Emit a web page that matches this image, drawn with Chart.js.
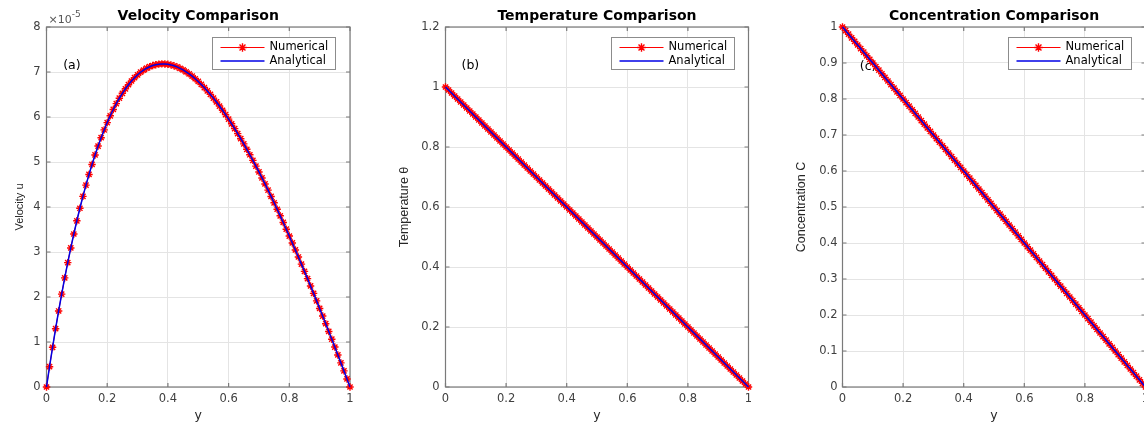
<!DOCTYPE html>
<html>
<head>
<meta charset="utf-8">
<script src="https://cdn.jsdelivr.net/npm/chart.js@4.4.1/dist/chart.umd.min.js"></script>
<style>
  html, body { margin: 0; padding: 0; background: #fff; overflow: hidden; }
  body { width: 1144px; height: 423px; position: relative; }
  canvas { position: absolute; top: 0; }
</style>
</head>
<body>
<canvas id="velChart" width="380" height="423" style="left:0px"></canvas>
<canvas id="tempChart" width="380" height="423" style="left:380px"></canvas>
<canvas id="concChart" width="400" height="423" style="left:760px"></canvas>
<script>
  // grid in y (0 -> 1, step 0.01)
  const yPos = [
    0, 0.01, 0.02, 0.03, 0.04, 0.05, 0.06, 0.07, 0.08, 0.09,
    0.1, 0.11, 0.12, 0.13, 0.14, 0.15, 0.16, 0.17, 0.18, 0.19,
    0.2, 0.21, 0.22, 0.23, 0.24, 0.25, 0.26, 0.27, 0.28, 0.29,
    0.3, 0.31, 0.32, 0.33, 0.34, 0.35, 0.36, 0.37, 0.38, 0.39,
    0.4, 0.41, 0.42, 0.43, 0.44, 0.45, 0.46, 0.47, 0.48, 0.49,
    0.5, 0.51, 0.52, 0.53, 0.54, 0.55, 0.56, 0.57, 0.58, 0.59,
    0.6, 0.61, 0.62, 0.63, 0.64, 0.65, 0.66, 0.67, 0.68, 0.69,
    0.7, 0.71, 0.72, 0.73, 0.74, 0.75, 0.76, 0.77, 0.78, 0.79,
    0.8, 0.81, 0.82, 0.83, 0.84, 0.85, 0.86, 0.87, 0.88, 0.89,
    0.9, 0.91, 0.92, 0.93, 0.94, 0.95, 0.96, 0.97, 0.98, 0.99,
    1
  ];

  // velocity u, in units of 1e-5
  const velocity = [
    0, 0.451, 0.883, 1.295, 1.689, 2.065, 2.424, 2.765, 3.090, 3.400,
    3.694, 3.972, 4.237, 4.487, 4.723, 4.946, 5.157, 5.354, 5.540, 5.713,
    5.876, 6.027, 6.167, 6.297, 6.417, 6.527, 6.627, 6.718, 6.800, 6.873,
    6.938, 6.995, 7.043, 7.084, 7.117, 7.143, 7.162, 7.174, 7.180, 7.179,
    7.171, 7.158, 7.138, 7.113, 7.082, 7.046, 7.005, 6.958, 6.907, 6.850,
    6.790, 6.724, 6.654, 6.580, 6.502, 6.420, 6.334, 6.244, 6.150, 6.053,
    5.953, 5.849, 5.742, 5.631, 5.518, 5.402, 5.283, 5.161, 5.036, 4.909,
    4.779, 4.646, 4.512, 4.374, 4.235, 4.094, 3.950, 3.804, 3.656, 3.506,
    3.355, 3.201, 3.046, 2.889, 2.730, 2.570, 2.408, 2.245, 2.080, 1.914,
    1.746, 1.577, 1.406, 1.235, 1.062, 0.888, 0.712, 0.536, 0.358, 0.179,
    0
  ];

  const temperature = [
    1, 0.99, 0.98, 0.97, 0.96, 0.95, 0.94, 0.93, 0.92, 0.91,
    0.9, 0.89, 0.88, 0.87, 0.86, 0.85, 0.84, 0.83, 0.82, 0.81,
    0.8, 0.79, 0.78, 0.77, 0.76, 0.75, 0.74, 0.73, 0.72, 0.71,
    0.7, 0.69, 0.68, 0.67, 0.66, 0.65, 0.64, 0.63, 0.62, 0.61,
    0.6, 0.59, 0.58, 0.57, 0.56, 0.55, 0.54, 0.53, 0.52, 0.51,
    0.5, 0.49, 0.48, 0.47, 0.46, 0.45, 0.44, 0.43, 0.42, 0.41,
    0.4, 0.39, 0.38, 0.37, 0.36, 0.35, 0.34, 0.33, 0.32, 0.31,
    0.3, 0.29, 0.28, 0.27, 0.26, 0.25, 0.24, 0.23, 0.22, 0.21,
    0.2, 0.19, 0.18, 0.17, 0.16, 0.15, 0.14, 0.13, 0.12, 0.11,
    0.1, 0.09, 0.08, 0.07, 0.06, 0.05, 0.04, 0.03, 0.02, 0.01,
    0
  ];

  const concentration = [
    1, 0.99, 0.98, 0.97, 0.96, 0.95, 0.94, 0.93, 0.92, 0.91,
    0.9, 0.89, 0.88, 0.87, 0.86, 0.85, 0.84, 0.83, 0.82, 0.81,
    0.8, 0.79, 0.78, 0.77, 0.76, 0.75, 0.74, 0.73, 0.72, 0.71,
    0.7, 0.69, 0.68, 0.67, 0.66, 0.65, 0.64, 0.63, 0.62, 0.61,
    0.6, 0.59, 0.58, 0.57, 0.56, 0.55, 0.54, 0.53, 0.52, 0.51,
    0.5, 0.49, 0.48, 0.47, 0.46, 0.45, 0.44, 0.43, 0.42, 0.41,
    0.4, 0.39, 0.38, 0.37, 0.36, 0.35, 0.34, 0.33, 0.32, 0.31,
    0.3, 0.29, 0.28, 0.27, 0.26, 0.25, 0.24, 0.23, 0.22, 0.21,
    0.2, 0.19, 0.18, 0.17, 0.16, 0.15, 0.14, 0.13, 0.12, 0.11,
    0.1, 0.09, 0.08, 0.07, 0.06, 0.05, 0.04, 0.03, 0.02, 0.01,
    0
  ];

  const seriesNames = ['Numerical', 'Analytical'];

  const tickFmt = v => String(+v.toFixed(2));

  // MATLAB-like box with inward ticks on all four sides
  const matlabBox = {
    id: 'matlabBox',
    beforeDatasetsDraw(chart) {
      const { ctx, chartArea: a, scales: { x, y } } = chart;
      const tl = 4;
      ctx.save();
      ctx.strokeStyle = '#7a7a7a';
      ctx.lineWidth = 1.2;
      ctx.beginPath();
      x.ticks.forEach(t => {
        const px = x.getPixelForValue(t.value);
        ctx.moveTo(px, a.top); ctx.lineTo(px, a.top + tl);
        ctx.moveTo(px, a.bottom); ctx.lineTo(px, a.bottom - tl);
      });
      y.ticks.forEach(t => {
        const py = y.getPixelForValue(t.value);
        ctx.moveTo(a.left, py); ctx.lineTo(a.left + tl, py);
        ctx.moveTo(a.right, py); ctx.lineTo(a.right - tl, py);
      });
      ctx.stroke();
      ctx.strokeRect(a.left, a.top, a.right - a.left, a.bottom - a.top);
      ctx.restore();
    }
  };

  // "(a)" style panel tag, placed in data coords, drawn under the lines
  const panelTag = {
    id: 'panelTag',
    beforeDatasetsDraw(chart, args, opts) {
      if (!opts.text) return;
      const { ctx, scales: { x, y } } = chart;
      ctx.save();
      ctx.font = '12.5px "DejaVu Sans"';
      ctx.fillStyle = '#000';
      ctx.textBaseline = 'middle';
      ctx.textAlign = 'left';
      ctx.fillText(opts.text, x.getPixelForValue(opts.x), y.getPixelForValue(opts.y));
      ctx.restore();
    }
  };

  // "x10^-5" exponent above the y axis
  const expLabel = {
    id: 'expLabel',
    afterDraw(chart, args, opts) {
      if (!opts.exp) return;
      const { ctx, chartArea: a } = chart;
      ctx.save();
      ctx.fillStyle = '#555';
      ctx.textAlign = 'left';
      ctx.textBaseline = 'alphabetic';
      ctx.font = '11px "DejaVu Sans"';
      const base = '\u00d710';
      ctx.fillText(base, a.left + 2, a.top - 4);
      const w = ctx.measureText(base).width;
      ctx.font = '9px "DejaVu Sans"';
      ctx.fillText(opts.exp, a.left + 2 + w, a.top - 10);
      ctx.restore();
    }
  };

  // boxed legend inside the top right corner of the axes
  const boxLegend = {
    id: 'boxLegend',
    afterDraw(chart) {
      const { ctx, chartArea: a } = chart;
      const w = 123, h = 32;
      const left = Math.round(a.right - 15 - w) + 0.5, top = Math.round(a.top + 10) + 0.5;
      ctx.save();
      ctx.fillStyle = '#fff';
      ctx.fillRect(left, top, w, h);
      ctx.strokeStyle = '#8c8c8c';
      ctx.lineWidth = 1;
      ctx.strokeRect(left, top, w, h);
      const items = [...chart.data.datasets].sort((p, q) => p.legendIndex - q.legendIndex);
      items.forEach((ds, i) => {
        const cy = top + 10 + i * 13.5;
        ctx.strokeStyle = ds.borderColor;
        ctx.lineWidth = ds.borderWidth;
        ctx.beginPath();
        ctx.moveTo(left + 8, cy);
        ctx.lineTo(left + 52, cy);
        ctx.stroke();
        if (ds.pointRadius) {
          ctx.strokeStyle = ds.pointBorderColor;
          ctx.lineWidth = ds.pointBorderWidth;
          Chart.helpers.drawPoint(ctx, { pointStyle: ds.pointStyle, radius: ds.pointRadius + 0.5, borderWidth: ds.pointBorderWidth, rotation: 0 }, left + 30, cy);
        }
        ctx.fillStyle = '#000';
        ctx.font = '11.5px "DejaVu Sans"';
        ctx.textBaseline = 'middle';
        ctx.textAlign = 'left';
        ctx.fillText(ds.label, left + 57, cy);
      });
      ctx.restore();
    }
  };

  const toPoints = vals => yPos.map((x, i) => ({ x, y: vals[i] }));

  const createChart = (id, p) => new Chart(document.getElementById(id), {
    type: 'line',
    data: {
      datasets: [
        {
          label: seriesNames[1], legendIndex: 1, order: 0, data: toPoints(p.values),
          borderColor: '#0000e6', borderWidth: 1.5, pointRadius: 0, tension: 0, clip: false
        },
        {
          label: seriesNames[0], legendIndex: 0, order: 1, data: toPoints(p.values),
          borderColor: '#ff0000', borderWidth: 1, backgroundColor: '#ff0000',
          pointStyle: 'star', pointRadius: 3.7, pointBorderColor: '#ff0000', pointBorderWidth: 1.4,
          tension: 0, clip: false
        }
      ]
    },
    options: {
      responsive: false,
      devicePixelRatio: 1,
      animation: false,
      events: [],
      layout: { padding: { left: 0, right: p.padRight, top: 0, bottom: 0 } },
      plugins: {
        legend: { display: false },
        tooltip: { enabled: false },
        title: {
          display: true, text: p.title, fullSize: false, color: '#000',
          font: { family: 'DejaVu Sans', size: 14, weight: 'bold', lineHeight: 1 },
          padding: { top: 9, bottom: 4 }
        },
        panelTag: p.tag,
        expLabel: { exp: p.exp }
      },
      scales: {
        x: {
          type: 'linear', min: 0, max: 1,
          afterFit: s => { s.height = 36; },
          ticks: { stepSize: 0.2, callback: tickFmt, padding: 5, color: '#404040', maxRotation: 0,
                   font: { family: 'DejaVu Sans', size: 11.5 } },
          grid: { color: '#e4e4e4', drawTicks: false },
          border: { display: false },
          title: { display: true, text: 'y', color: '#262626', padding: { top: 0, bottom: 0 },
                   font: { family: 'DejaVu Sans', size: 12.5, lineHeight: 1.2 } }
        },
        y: {
          type: 'linear', min: p.yMin, max: p.yMax,
          afterFit: s => { s.width = p.axisWidth; },
          ticks: { stepSize: p.yStep, callback: tickFmt, padding: p.tickPad, color: '#404040',
                   font: { family: 'DejaVu Sans', size: 11.5 } },
          grid: { color: '#e4e4e4', drawTicks: false },
          border: { display: false },
          title: { display: true, text: p.yLabel, color: '#262626',
                   padding: { top: p.yTitlePad, bottom: 0 },
                   font: { family: 'Liberation Sans', size: p.yTitleSize, lineHeight: 1.2 } }
        }
      }
    },
    plugins: [matlabBox, panelTag, expLabel, boxLegend]
  });

  const velChart = createChart('velChart', {
    title: 'Velocity Comparison', yLabel: 'Velocity u', values: velocity,
    yMin: 0, yMax: 8, yStep: 1, exp: '-5',
    axisWidth: 46.5, padRight: 30, tickPad: 6, yTitleSize: 11, yTitlePad: 13,
    tag: { text: '(a)', x: 0.055, y: 7.15 }
  });

  const tempChart = createChart('tempChart', {
    title: 'Temperature Comparison', yLabel: 'Temperature \u03b8', values: temperature,
    yMin: 0, yMax: 1.2, yStep: 0.2, exp: '',
    axisWidth: 65.5, padRight: 11.5, tickPad: 6, yTitleSize: 12.5, yTitlePad: 17.5,
    tag: { text: '(b)', x: 0.053, y: 1.07 }
  });

  const concChart = createChart('concChart', {
    title: 'Concentration Comparison', yLabel: 'Concentration C', values: concentration,
    yMin: 0, yMax: 1, yStep: 0.1, exp: '',
    axisWidth: 82.5, padRight: 14.5, tickPad: 5, yTitleSize: 12.5, yTitlePad: 34,
    tag: { text: '(c)', x: 0.057, y: 0.89 }
  });
</script>
</body>
</html>
